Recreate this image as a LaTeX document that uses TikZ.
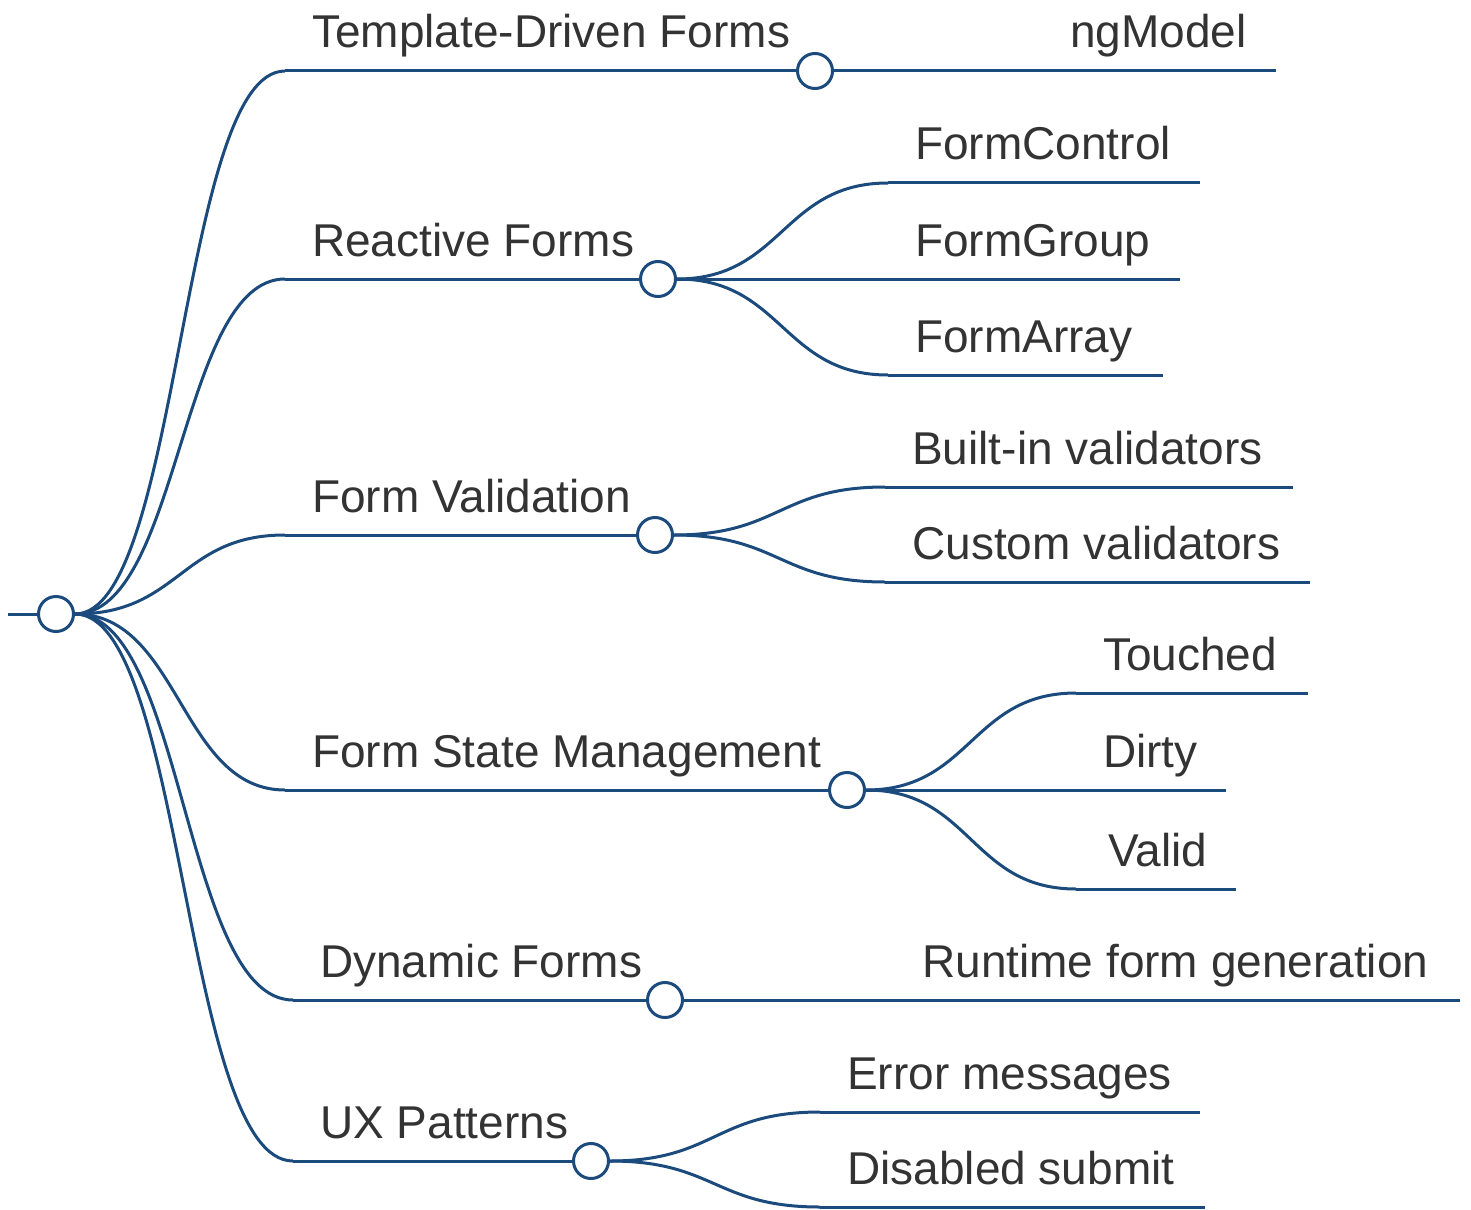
\documentclass[tikz,border=0pt]{standalone}
\usepackage{fontspec}
\setmainfont{Liberation Sans}
\usetikzlibrary{calc,backgrounds}
\definecolor{linkblue}{HTML}{1B4A7D}
\definecolor{labelgray}{HTML}{333333}
\tikzset{
  link/.style={draw=linkblue, line width=3pt},
  knot/.style={circle, draw=linkblue, fill=white, line width=3pt, minimum size=35pt, inner sep=0pt},
  lbl/.style={anchor=base west, inner sep=0pt, text=labelgray, font=\fontsize{46}{52}\selectfont}
}
% smooth horizontal link between two points
\newcommand\mmlink[2]{%
  \draw[link] let \p1=(#1), \p2=(#2) in
    (\p1) .. controls ({(\x1+\x2)/2},\y1) and ({(\x1+\x2)/2},\y2) .. (\p2);}
\begin{document}
\begin{tikzpicture}[x=1pt,y=-1pt]
\useasboundingbox (0,0) rectangle (1471,1209);

% root
\node[knot] (root) at (56,614) {};
\coordinate (stub) at (8,614);

% first level knots and line starts
\node[knot] (tdf) at (815,71) {};   \coordinate (tdfS) at (285,71);
\node[knot] (rf)  at (658,279) {};  \coordinate (rfS)  at (285,279);
\node[knot] (fv)  at (655,535) {};  \coordinate (fvS)  at (285,535);
\node[knot] (fsm) at (847,790) {};  \coordinate (fsmS) at (285,790);
\node[knot] (df)  at (665,1000) {}; \coordinate (dfS)  at (293,1000);
\node[knot] (ux)  at (591,1161) {}; \coordinate (uxS)  at (293,1161);

% leaf lines
\coordinate (ngS) at (1045,71);   \coordinate (ngE) at (1276,71);
\coordinate (fcS) at (888,183);   \coordinate (fcE) at (1200,183);
\coordinate (fgS) at (888,279);   \coordinate (fgE) at (1180,279);
\coordinate (faS) at (888,375);   \coordinate (faE) at (1163,375);
\coordinate (biS) at (885,487);   \coordinate (biE) at (1293,487);
\coordinate (cvS) at (885,582);   \coordinate (cvE) at (1310,582);
\coordinate (toS) at (1076,693);  \coordinate (toE) at (1308,693);
\coordinate (diS) at (1076,790);  \coordinate (diE) at (1226,790);
\coordinate (vaS) at (1076,889);  \coordinate (vaE) at (1236,889);
\coordinate (rtS) at (895,1000);  \coordinate (rtE) at (1460,1000);
\coordinate (emS) at (820,1112);  \coordinate (emE) at (1200,1112);
\coordinate (dsS) at (820,1207);  \coordinate (dsE) at (1205,1207);

\begin{pgfonlayer}{background}
  \draw[link] (stub) -- (root.west);
  % root to first level
  \mmlink{root.east}{tdfS} \draw[link] (tdfS) -- (tdf.west);
  \mmlink{root.east}{rfS}  \draw[link] (rfS) -- (rf.west);
  \mmlink{root.east}{fvS}  \draw[link] (fvS) -- (fv.west);
  \mmlink{root.east}{fsmS} \draw[link] (fsmS) -- (fsm.west);
  \mmlink{root.east}{dfS}  \draw[link] (dfS) -- (df.west);
  \mmlink{root.east}{uxS}  \draw[link] (uxS) -- (ux.west);
  % first level to leaves
  \mmlink{tdf.east}{ngS} \draw[link] (ngS) -- (ngE);
  \mmlink{rf.east}{fcS}  \draw[link] (fcS) -- (fcE);
  \mmlink{rf.east}{fgS}  \draw[link] (fgS) -- (fgE);
  \mmlink{rf.east}{faS}  \draw[link] (faS) -- (faE);
  \mmlink{fv.east}{biS}  \draw[link] (biS) -- (biE);
  \mmlink{fv.east}{cvS}  \draw[link] (cvS) -- (cvE);
  \mmlink{fsm.east}{toS} \draw[link] (toS) -- (toE);
  \mmlink{fsm.east}{diS} \draw[link] (diS) -- (diE);
  \mmlink{fsm.east}{vaS} \draw[link] (vaS) -- (vaE);
  \mmlink{df.east}{rtS}  \draw[link] (rtS) -- (rtE);
  \mmlink{ux.east}{emS}  \draw[link] (emS) -- (emE);
  \mmlink{ux.east}{dsS}  \draw[link] (dsS) -- (dsE);
\end{pgfonlayer}

% labels
\node[lbl] (tdfL) at (312,48)   {Template-Driven Forms};
\node[lbl] (rfL)  at (312,256)  {Reactive Forms};
\node[lbl] (fvL)  at (312,512)  {Form Validation};
\node[lbl] (fsmL) at (312,767)  {Form State Management};
\node[lbl] (dfL)  at (320,977)  {Dynamic Forms};
\node[lbl] (uxL)  at (320,1138) {UX Patterns};

\node[lbl] (ngL) at (1070,48)   {ngModel};
\node[lbl] (fcL) at (915,160)   {FormControl};
\node[lbl] (fgL) at (915,256)   {FormGroup};
\node[lbl] (faL) at (915,352)   {FormArray};
\node[lbl] (biL) at (912,464)   {Built-in validators};
\node[lbl] (cvL) at (912,559)   {Custom validators};
\node[lbl] (toL) at (1103,670)  {Touched};
\node[lbl] (diL) at (1103,767)  {Dirty};
\node[lbl] (vaL) at (1108,866)  {Valid};
\node[lbl] (rtL) at (922,977)   {Runtime form generation};
\node[lbl] (emL) at (847,1089)  {Error messages};
\node[lbl] (dsL) at (847,1184)  {Disabled submit};
\end{tikzpicture}
\end{document}
